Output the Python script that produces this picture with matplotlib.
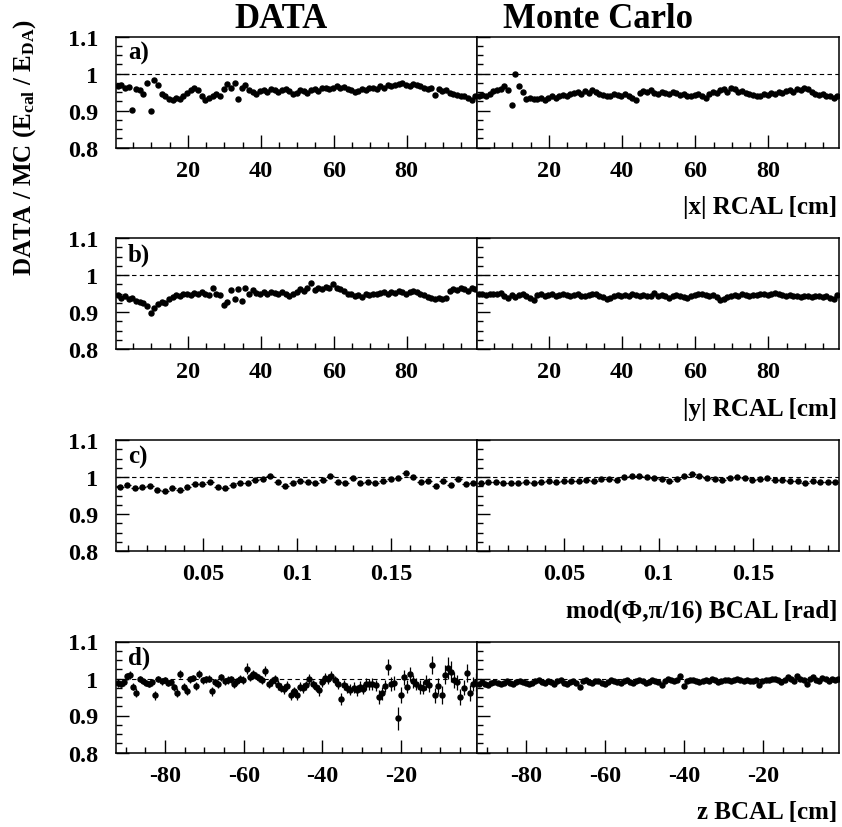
#!/usr/bin/env python3
"""
DATA / MC energy scale ratio versus impact position in the RCAL and BCAL.
"""

import numpy as np
import matplotlib
matplotlib.use("Agg")
import matplotlib.pyplot as plt
from matplotlib.ticker import MultipleLocator, FormatStrFormatter, FuncFormatter

# --- |x| RCAL [cm], bins of 1 cm ---
x_rcal_start = 0.8
x_rcal_step = 1.0

a_data = [0.965, 0.968, 0.960, 0.963, 0.902, 0.958, 0.955, 0.945, 0.975, 0.898,
          0.982, 0.970, 0.945, 0.938, 0.932, 0.928, 0.935, 0.930, 0.940, 0.948,
          0.955, 0.960, 0.955, 0.938, 0.928, 0.935, 0.940, 0.945, 0.938, 0.958,
          0.972, 0.962, 0.975, 0.930, 0.960, 0.968, 0.955, 0.950, 0.945, 0.952,
          0.955, 0.950, 0.958, 0.955, 0.950, 0.955, 0.958, 0.952, 0.945, 0.948,
          0.955, 0.952, 0.948, 0.955, 0.958, 0.952, 0.960, 0.962, 0.958, 0.962,
          0.965, 0.960, 0.963, 0.958, 0.955, 0.950, 0.953, 0.958, 0.955, 0.960,
          0.962, 0.958, 0.965, 0.962, 0.968, 0.965, 0.970, 0.972, 0.975, 0.970,
          0.965, 0.972, 0.968, 0.965, 0.960, 0.958, 0.962, 0.942, 0.958, 0.952,
          0.955, 0.948, 0.945, 0.942, 0.940, 0.938, 0.935, 0.928, 0.940]

a_mc = [0.940, 0.942, 0.938, 0.945, 0.952, 0.955, 0.958, 0.965, 0.955, 0.915,
        1.000, 0.965, 0.950, 0.930, 0.935, 0.932, 0.930, 0.935, 0.928, 0.935,
        0.938, 0.935, 0.940, 0.942, 0.938, 0.945, 0.948, 0.950, 0.945, 0.952,
        0.948, 0.955, 0.950, 0.945, 0.942, 0.938, 0.940, 0.945, 0.942, 0.938,
        0.945, 0.940, 0.935, 0.928, 0.948, 0.952, 0.950, 0.955, 0.948, 0.945,
        0.950, 0.948, 0.945, 0.950, 0.948, 0.942, 0.945, 0.940, 0.938, 0.942,
        0.945, 0.940, 0.935, 0.945, 0.950, 0.948, 0.955, 0.958, 0.950, 0.962,
        0.958, 0.950, 0.952, 0.948, 0.945, 0.942, 0.938, 0.940, 0.945, 0.942,
        0.948, 0.945, 0.950, 0.948, 0.952, 0.955, 0.950, 0.958, 0.955, 0.962,
        0.958, 0.950, 0.945, 0.942, 0.945, 0.940, 0.938, 0.935, 0.938]

# --- |y| RCAL [cm], bins of 1 cm ---
b_data = [0.945, 0.938, 0.942, 0.935, 0.938, 0.930, 0.928, 0.925, 0.915, 0.898,
          0.910, 0.922, 0.928, 0.925, 0.935, 0.940, 0.945, 0.942, 0.948, 0.950,
          0.945, 0.952, 0.948, 0.955, 0.950, 0.945, 0.965, 0.950, 0.945, 0.920,
          0.928, 0.960, 0.935, 0.962, 0.930, 0.965, 0.948, 0.960, 0.952, 0.948,
          0.955, 0.950, 0.955, 0.952, 0.950, 0.955, 0.948, 0.942, 0.950, 0.955,
          0.962, 0.958, 0.965, 0.978, 0.960, 0.965, 0.962, 0.968, 0.965, 0.975,
          0.965, 0.962, 0.958, 0.950, 0.948, 0.942, 0.945, 0.940, 0.948, 0.945,
          0.950, 0.948, 0.952, 0.955, 0.950, 0.955, 0.952, 0.958, 0.955, 0.950,
          0.955, 0.958, 0.955, 0.950, 0.945, 0.940, 0.938, 0.935, 0.938, 0.935,
          0.938, 0.958, 0.962, 0.960, 0.965, 0.962, 0.958, 0.965, 0.962]

b_mc = [0.950, 0.948, 0.945, 0.948, 0.950, 0.948, 0.952, 0.942, 0.938, 0.945,
        0.940, 0.945, 0.948, 0.942, 0.938, 0.932, 0.945, 0.948, 0.942, 0.945,
        0.948, 0.944, 0.946, 0.948, 0.945, 0.942, 0.946, 0.948, 0.944, 0.942,
        0.946, 0.950, 0.948, 0.944, 0.940, 0.936, 0.938, 0.942, 0.945, 0.943,
        0.946, 0.944, 0.948, 0.945, 0.942, 0.946, 0.944, 0.942, 0.952, 0.944,
        0.946, 0.942, 0.938, 0.944, 0.946, 0.942, 0.940, 0.938, 0.942, 0.946,
        0.950, 0.948, 0.945, 0.942, 0.946, 0.940, 0.932, 0.935, 0.940, 0.944,
        0.946, 0.944, 0.948, 0.946, 0.944, 0.947, 0.945, 0.948, 0.950, 0.946,
        0.948, 0.952, 0.948, 0.946, 0.944, 0.946, 0.942, 0.944, 0.940, 0.942,
        0.944, 0.940, 0.942, 0.944, 0.940, 0.942, 0.938, 0.935, 0.945]

# --- mod(phi, pi/16) BCAL [rad], bins of 0.004 rad ---
x_phi_start = 0.0057
x_phi_step = 0.004

c_data = [0.973, 0.979, 0.971, 0.973, 0.975, 0.966, 0.961, 0.970, 0.965, 0.974,
          0.981, 0.980, 0.987, 0.974, 0.969, 0.978, 0.984, 0.984, 0.991, 0.994,
          1.004, 0.987, 0.977, 0.985, 0.990, 0.986, 0.985, 0.991, 1.004, 0.987,
          0.984, 0.996, 0.984, 0.987, 0.984, 0.988, 0.995, 0.997, 1.011, 1.001,
          0.987, 0.988, 0.977, 0.990, 0.979, 0.995, 0.981, 0.983]

c_mc = [0.983, 0.987, 0.986, 0.984, 0.985, 0.984, 0.986, 0.983, 0.987, 0.988,
        0.987, 0.988, 0.988, 0.989, 0.992, 0.990, 0.995, 0.995, 0.993, 1.001,
        1.003, 1.002, 0.999, 0.997, 0.995, 0.989, 0.995, 1.002, 1.008, 1.003,
        0.996, 0.995, 0.993, 0.996, 0.999, 0.997, 0.993, 0.995, 0.996, 0.993,
        0.991, 0.990, 0.988, 0.985, 0.988, 0.987, 0.987, 0.987]

# --- z BCAL [cm], bins of 0.8 cm ---
x_z_start = -92.1
x_z_step = 0.8

d_data = [0.988, 0.985, 0.990, 1.006, 1.010, 0.978, 0.962, 0.998, 0.992, 0.988,
          0.985, 0.990, 0.955, 0.998, 0.992, 0.995, 0.988, 0.990, 0.976, 0.962,
          1.012, 0.978, 0.967, 0.998, 1.002, 0.980, 1.013, 0.995, 0.998, 1.000,
          0.966, 0.990, 0.985, 1.003, 0.992, 0.996, 0.998, 0.985, 0.992, 1.000,
          0.996, 1.027, 1.005, 1.012, 1.008, 1.002, 0.995, 1.020, 0.985, 0.992,
          0.998, 0.982, 0.975, 0.972, 0.980, 0.955, 0.965, 0.955, 0.978, 0.975,
          0.982, 0.998, 0.985, 0.978, 0.968, 0.990, 1.002, 0.998, 1.008, 0.995,
          0.985, 0.945, 0.982, 0.975, 0.970, 0.975, 0.968, 0.978, 0.972, 0.985,
          0.985, 0.985, 0.982, 0.950, 0.960, 0.980, 1.032, 0.985, 0.988, 0.892,
          0.955, 1.003, 0.978, 1.012, 0.992, 0.985, 0.978, 0.975, 0.990, 0.982,
          1.036, 0.955, 0.980, 0.955, 1.010, 1.028, 1.018, 0.995, 0.990, 0.950,
          0.975, 1.015, 0.960, 0.985, 0.990]

d_data_err = [0.010, 0.008, 0.009, 0.010, 0.010, 0.009, 0.012, 0.008, 0.008, 0.009,
              0.008, 0.009, 0.012, 0.008, 0.009, 0.008, 0.009, 0.008, 0.010, 0.012,
              0.010, 0.009, 0.011, 0.009, 0.008, 0.010, 0.011, 0.009, 0.010, 0.009,
              0.012, 0.009, 0.010, 0.009, 0.009, 0.010, 0.009, 0.010, 0.010, 0.009,
              0.010, 0.016, 0.011, 0.012, 0.010, 0.011, 0.011, 0.014, 0.012, 0.011,
              0.012, 0.013, 0.012, 0.013, 0.012, 0.014, 0.013, 0.014, 0.012, 0.013,
              0.012, 0.013, 0.012, 0.013, 0.014, 0.012, 0.013, 0.014, 0.013, 0.012,
              0.014, 0.016, 0.014, 0.013, 0.014, 0.015, 0.014, 0.015, 0.014, 0.016,
              0.015, 0.016, 0.015, 0.018, 0.017, 0.016, 0.022, 0.018, 0.020, 0.030,
              0.022, 0.020, 0.018, 0.020, 0.018, 0.017, 0.019, 0.018, 0.020, 0.019,
              0.024, 0.020, 0.022, 0.024, 0.026, 0.030, 0.028, 0.022, 0.020, 0.022,
              0.020, 0.024, 0.022, 0.020, 0.025]

d_mc = [0.985, 0.990, 0.986, 0.983, 0.988, 0.991, 0.987, 0.985, 0.989, 0.992,
        0.988, 0.986, 0.990, 0.993, 0.990, 0.987, 0.985, 0.989, 0.992, 0.995,
        0.991, 0.988, 0.992, 0.990, 0.986, 0.993, 0.995, 0.989, 0.985, 0.990,
        0.994, 0.988, 0.976, 0.992, 0.996, 0.990, 0.988, 0.994, 0.992, 0.989,
        0.986, 0.991, 0.995, 0.993, 0.990, 0.988, 0.992, 0.995, 0.990, 0.987,
        0.993, 0.996, 0.992, 0.988, 0.991, 0.997, 0.993, 0.990, 0.982, 0.994,
        0.998, 0.995, 0.993, 0.996, 1.008, 0.980, 0.992, 0.995, 0.997, 0.994,
        0.990, 0.993, 0.996, 0.994, 0.998, 0.995, 0.991, 0.994, 0.997, 0.995,
        0.992, 0.996, 0.999, 0.995, 0.993, 0.996, 0.994, 0.992, 0.995, 0.983,
        0.993, 0.997, 0.995, 0.998, 1.000, 0.995, 0.991, 0.996, 1.004, 0.998,
        0.994, 1.006, 1.000, 0.996, 0.984, 0.998, 1.004, 0.996, 0.992, 1.002,
        0.998, 0.994, 1.000, 0.996, 0.999]

row_letters = ["a)", "b)", "c)", "d)"]
row_xlabels = ["|x| RCAL [cm]", "|y| RCAL [cm]",
               "mod(\u03a6,\u03c0/16) BCAL [rad]", "z BCAL [cm]"]

SERIF = "Liberation Serif"


def bin_centers(start, step, values):
    """Bin centres for a list of histogram contents."""
    return start + step * np.arange(len(values))


def style_axis(ax, xlim, xmajor, xminor, xfmt, show_ylabels):
    """ROOT-like frame: inward ticks, bold serif labels."""
    ax.set_xlim(*xlim)
    ax.set_ylim(0.8, 1.1)
    ax.xaxis.set_major_locator(MultipleLocator(xmajor))
    ax.xaxis.set_minor_locator(MultipleLocator(xminor))
    ax.xaxis.set_major_formatter(xfmt)
    ax.yaxis.set_major_locator(MultipleLocator(0.1))
    ax.yaxis.set_minor_locator(MultipleLocator(0.025))
    ax.yaxis.set_major_formatter(FuncFormatter(lambda v, p: "%g" % round(v, 3)))
    ax.tick_params(which="both", direction="in", top=False, right=False,
                   width=1.0, colors="black")
    ax.tick_params(which="major", length=9.5)
    ax.tick_params(which="minor", length=4.5)
    ax.tick_params(axis="x", which="major", pad=9, labelsize=17.5)
    ax.tick_params(axis="y", which="major", pad=13, labelsize=17.5,
                   labelleft=show_ylabels)
    for lab in ax.get_xticklabels() + ax.get_yticklabels():
        lab.set_fontweight("bold")
    for sp in ax.spines.values():
        sp.set_linewidth(1.1)
    ax.axhline(1.0, color="black", lw=0.8, ls=(0, (4, 3)), zorder=1)


def draw_points(ax, x, y, step, yerr):
    """Histogram points with bin-width horizontal bars."""
    ax.errorbar(x, y, xerr=step / 2.0, yerr=yerr, fmt="o", color="black",
                ms=3.6, elinewidth=0.9, capsize=0, zorder=3)


def main():
    plt.rcParams["font.family"] = [SERIF, "DejaVu Serif"]
    plt.rcParams["font.weight"] = "bold"
    plt.rcParams["axes.unicode_minus"] = False
    plt.rcParams["mathtext.fontset"] = "custom"
    plt.rcParams["mathtext.rm"] = SERIF + ":bold"
    plt.rcParams["mathtext.it"] = SERIF + ":bold"
    plt.rcParams["mathtext.bf"] = SERIF + ":bold"
    plt.rcParams["mathtext.default"] = "rm"

    fig = plt.figure(figsize=(8.42, 8.28), dpi=100)

    W, H = 842.0, 828.0
    left_x0, mid_x, right_x1 = 116.0, 477.0, 839.0
    row_tops = [37.5, 239.0, 441.0, 642.5]
    row_h = 111.0

    rcal_lim = (0.3, 99.3)
    phi_lim = (0.0037, 0.1957)
    z_lim = (-92.5, -0.7)
    fmt_int = FormatStrFormatter("%d")
    fmt_g = FuncFormatter(lambda v, p: "%g" % round(v, 4))

    rows = [
        (a_data, a_mc, x_rcal_start, x_rcal_step, rcal_lim, 20, 5, fmt_int),
        (b_data, b_mc, x_rcal_start, x_rcal_step, rcal_lim, 20, 5, fmt_int),
        (c_data, c_mc, x_phi_start, x_phi_step, phi_lim, 0.05, 0.01, fmt_g),
        (d_data, d_mc, x_z_start, x_z_step, z_lim, 20, 5, fmt_int),
    ]

    for i, (dat, mc, x0, step, xlim, xmaj, xmin, fmt) in enumerate(rows):
        bottom = 1.0 - (row_tops[i] + row_h) / H
        h = row_h / H
        ax_l = fig.add_axes([left_x0 / W, bottom, (mid_x - left_x0) / W, h])
        ax_r = fig.add_axes([mid_x / W, bottom, (right_x1 - mid_x) / W, h])

        x_dat = bin_centers(x0, step, dat)
        x_mc = bin_centers(x0, step, mc)

        if i == 3:
            err_dat = d_data_err
            err_mc = 0.003
        elif i == 2:
            err_dat = 0.004
            err_mc = 0.002
        else:
            err_dat = 0.005
            err_mc = 0.004

        draw_points(ax_l, x_dat, dat, step, err_dat)
        draw_points(ax_r, x_mc, mc, step, err_mc)

        style_axis(ax_l, xlim, xmaj, xmin, fmt, True)
        style_axis(ax_r, xlim, xmaj, xmin, fmt, False)

        ax_l.text(0.033, 0.80, row_letters[i], transform=ax_l.transAxes,
                  fontsize=18, fontweight="bold", ha="left", va="baseline")

        fig.text(837.0 / W, 1.0 - (row_tops[i] + row_h + 66.0) / H,
                 row_xlabels[i], fontsize=18, fontweight="bold",
                 ha="right", va="baseline")

    fig.text(281.0 / W, 1.0 - 28.0 / H, "DATA", fontsize=25,
             fontweight="bold", ha="center", va="baseline")
    fig.text(598.0 / W, 1.0 - 28.0 / H, "Monte Carlo", fontsize=25,
             fontweight="bold", ha="center", va="baseline")
    fig.text(25.0 / W, 1.0 - 148.0 / H,
             r"DATA / MC (E$_{cal}$ / E$_{DA}$)", fontsize=18,
             fontweight="bold", rotation=90, ha="center", va="center")

    fig.savefig("out.png", dpi=100, facecolor="white")


if __name__ == "__main__":
    main()
